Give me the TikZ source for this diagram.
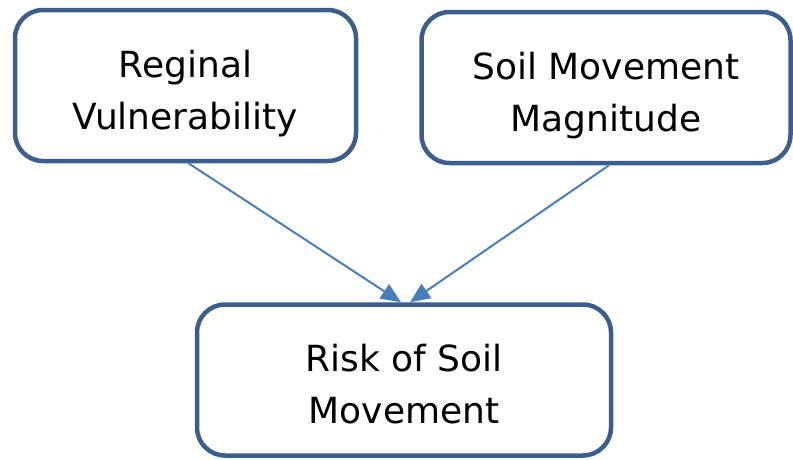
\documentclass[tikz,border=0pt]{standalone}
\usepackage{fontspec}
\setmainfont{DejaVu Sans}
\usetikzlibrary{arrows.meta, positioning}

\definecolor{boxline}{HTML}{3B5E8C}
\definecolor{arrline}{HTML}{4A7EBB}

\begin{document}
\begin{tikzpicture}[x=1pt, y=1pt]
    % Style definitions
    \tikzset{box/.style={draw=boxline, line width=4.5pt, fill=white, rectangle, rounded corners=28pt, minimum height=151pt, text height=97pt, text depth=10pt, align=center, font=\fontsize{36}{52}\selectfont}}
    \tikzset{arrow/.style={draw=arrline, line width=2pt, -{Triangle[length=20pt, width=17pt]}}}

    \useasboundingbox (0,0) rectangle (793,-459);

    % Nodes
    \node [box, minimum width=341pt] (reg) at (185.5,-85.5) {Reginal\\Vulnerability};
    \node [box, minimum width=369pt, right=61pt of reg, yshift=-2pt] (mag) {Soil Movement\\Magnitude};
    \node [box, minimum width=414pt] (risk) at (404,-380) {Risk of Soil\\Movement};

    % Arrows
    \draw [arrow] ([xshift=3pt]reg.south) -- ([xshift=-3pt]risk.north);
    \draw [arrow] ([xshift=3pt]mag.south) -- ([xshift=6pt]risk.north);
\end{tikzpicture}
\end{document}
